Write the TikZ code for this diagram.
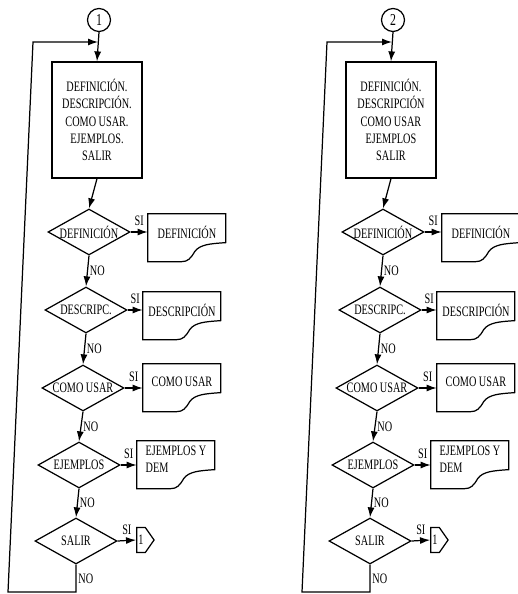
\documentclass[tikz,border=0pt]{standalone}
\usepackage{fontspec}
\setmainfont{Liberation Serif}[FakeStretch=0.71]
\usetikzlibrary{shapes.geometric,shapes.symbols,arrows.meta}

\tikzset{
  every node/.style={font=\fontsize{8.2}{9.8}\selectfont},
  flow/.style={line width=0.7pt, -{Latex[length=2mm,width=1.4mm]}},
  menu/.style={draw, line width=0.7pt, minimum width=1.8cm, minimum height=2.32cm, align=center},
  ask/.style={draw, diamond, aspect=1.8, inner sep=0pt, minimum width=1.64cm, minimum height=0.92cm, line width=0.7pt},
  doc/.style={minimum width=1.56cm, minimum height=0.72cm, inner sep=1pt, align=center},
  start/.style={draw, circle, minimum size=0.46cm, inner sep=0pt, line width=0.7pt, font=\fontsize{9.5}{10}\selectfont},
  page/.style={draw, signal, signal to=east, signal pointer angle=110, minimum width=0.34cm, minimum height=0.5cm, inner sep=1pt, line width=0.7pt},
  lbl/.style={inner sep=1pt}
}
% document symbol drawn round the top part of a doc node
\newcommand{\docframe}[1]{%
  \draw[line width=0.7pt, shift={(#1.north west)}] (0,0) -- (78,0) -- (78,29)
    .. controls (62,30) and (52,31) .. (47,38)
    .. controls (43,45) and (40,48) .. (34,48) -- (0,48) -- cycle;}

\begin{document}
\begin{tikzpicture}[x=0.02cm, y=-0.02cm]
  \useasboundingbox (0,0) rectangle (517,594);
  \foreach \c/\dx/\items in {1/0/{DEFINICIÓN.\\DESCRIPCIÓN.\\COMO USAR.\\EJEMPLOS.\\SALIR},
                             2/294/{DEFINICIÓN.\\DESCRIPCIÓN\\COMO USAR\\EJEMPLOS\\SALIR}}{
    \node[start] (c\c) at (\dx+99,20) {\c};
    \node[menu] (m\c) at (\dx+97,120) {\items};
    \node[ask] (q\c-1) at (\dx+89,232) {DEFINICIÓN};
    \node[ask] (q\c-2) at (\dx+86,310) {DESCRIPC.};
    \node[ask] (q\c-3) at (\dx+83,388) {COMO USAR};
    \node[ask] (q\c-4) at (\dx+79,465) {EJEMPLOS};
    \node[ask] (q\c-5) at (\dx+76,541) {SALIR};
    \node[doc] (d\c-1) at (\dx+187,232) {DEFINICIÓN};
    \node[doc] (d\c-2) at (\dx+182,310) {DESCRIPCIÓN};
    \node[doc] (d\c-3) at (\dx+182,382) {COMO USAR};
    \node[doc, align=left] (d\c-4) at (\dx+176,459) {EJEMPLOS Y\\DEM};
    \node[page] (p\c) at (\dx+141,540) {1};
    \foreach \k in {1,...,4} \docframe{d\c-\k};
    \coordinate (j\c) at (\dx+98,42);
    \coordinate (r\c) at (\dx+8,592);
    \coordinate (t\c) at (\dx+33,42);

    \draw[flow] (c\c.south) -- (m\c.north);
    \draw[flow] (m\c.south) -- (q\c-1.north);
    \foreach \a/\b in {1/2,2/3,3/4,4/5}
      \draw[flow] (q\c-\a.south) -- node[lbl, right]{NO} (q\c-\b.north);
    \foreach \k in {1,...,4}
      \draw[flow] (q\c-\k.east) -- node[lbl, above=2pt]{SI} (q\c-\k.east -| d\c-\k.west);
    \draw[flow] (q\c-5.east) -- node[lbl, above=2pt]{SI} (p\c.west);
    % back to the menu
    \draw[flow] (q\c-5.south) -- node[lbl, right]{NO} (q\c-5.south |- r\c) -- (r\c) -- (t\c) -- (j\c);
  }
\end{tikzpicture}
\end{document}
